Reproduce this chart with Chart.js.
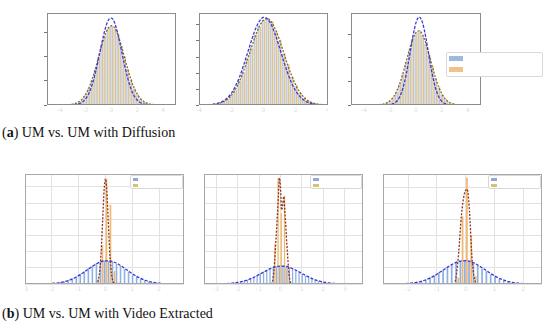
<!DOCTYPE html>
<html><head><meta charset="utf-8">
<script src="https://cdn.jsdelivr.net/npm/chart.js@4.4.1/dist/chart.umd.min.js"></script>
<style>
html,body{margin:0;padding:0;background:#fff;width:550px;height:324px;overflow:hidden;position:relative}
canvas{position:absolute}
.cap{position:absolute;left:2px;font-family:"Liberation Serif","DejaVu Serif",serif;font-size:14px;color:#111;white-space:nowrap;line-height:16px}
.lg{position:absolute;background:#fff;border:1px solid #d8d8d8;border-radius:2px;box-sizing:border-box}
.sw{position:absolute}
</style></head><body>
<canvas id="c1" width="133" height="102" style="left:43px;top:13px"></canvas>
<canvas id="c2" width="133" height="102" style="left:195px;top:13px"></canvas>
<canvas id="c3" width="134" height="102" style="left:347px;top:13px"></canvas>
<canvas id="c4" width="159" height="120" style="left:25px;top:174px"></canvas>
<canvas id="c5" width="159" height="120" style="left:204px;top:174px"></canvas>
<canvas id="c6" width="159" height="120" style="left:383px;top:174px"></canvas>

<div class="lg" style="left:446px;top:52px;width:97px;height:25px">
  <div class="sw" style="left:2px;top:3px;width:14px;height:5px;background:#9cb9de"></div>
  <div class="sw" style="left:2px;top:14px;width:14px;height:5px;background:#eec289"></div>
</div>
<div class="lg" style="left:130px;top:175px;width:53px;height:14px">
  <div class="sw" style="left:2px;top:2px;width:5px;height:3px;background:#8ea9dc"></div>
  <div class="sw" style="left:2px;top:8px;width:5px;height:3px;background:#cfc76a"></div>
</div>
<div class="lg" style="left:310px;top:175px;width:52px;height:14px">
  <div class="sw" style="left:2px;top:2px;width:6px;height:3px;background:#8ea9dc"></div>
  <div class="sw" style="left:2px;top:8px;width:6px;height:3px;background:#cfc76a"></div>
</div>
<div class="lg" style="left:488px;top:175px;width:53px;height:14px">
  <div class="sw" style="left:2px;top:2px;width:6px;height:3px;background:#8ea9dc"></div>
  <div class="sw" style="left:2px;top:8px;width:6px;height:3px;background:#cfc76a"></div>
</div>

<div class="cap" style="top:125px">(<b>a</b>) UM vs. UM with Diffusion</div>
<div class="cap" style="top:306px">(<b>b</b>) UM vs. UM with Video Extracted</div>

<script>
// ---------- top row (a) ----------
const p1Bins = [-3,-2.75,-2.5,-2.25,-2,-1.75,-1.5,-1.25,-1,-0.75,-0.5,-0.25,0,0.25,0.5,0.75,1,1.25,1.5,1.75,2,2.25,2.5,2.75,3];
const p1BlueBars = [0.003,0.007,0.013,0.025,0.042,0.070,0.104,0.148,0.196,0.247,0.286,0.316,0.325,0.315,0.287,0.244,0.199,0.150,0.103,0.068,0.043,0.024,0.013,0.006,0.003];
const p1OrangeBars = [0.004,0.008,0.015,0.027,0.044,0.073,0.105,0.153,0.198,0.252,0.288,0.322,0.328,0.318,0.293,0.246,0.202,0.149,0.108,0.070,0.046,0.025,0.014,0.007,0.004];
const p1CurveX = [-5,-4,-3.5,-3,-2.75,-2.5,-2.25,-2,-1.75,-1.5,-1.25,-1,-0.75,-0.5,-0.25,0,0.25,0.5,0.75,1,1.25,1.5,1.75,2,2.25,2.5,2.75,3,3.5,4,5];
const p1BlueCurve = [0,0,0.0001,0.0009,0.0023,0.0057,0.0127,0.026,0.049,0.085,0.134,0.194,0.258,0.315,0.353,0.362,0.341,0.294,0.233,0.169,0.113,0.069,0.0385,0.020,0.0093,0.004,0.0016,0.0006,0.0001,0,0];
const p1OrangeCurve = [0,0.0001,0.0007,0.0037,0.0075,0.0145,0.026,0.045,0.071,0.107,0.151,0.200,0.249,0.291,0.320,0.330,0.320,0.291,0.249,0.200,0.151,0.107,0.071,0.045,0.026,0.0145,0.0075,0.0037,0.0007,0.0001,0];

const p2Bins = [-2.75,-2.5,-2.25,-2,-1.75,-1.5,-1.25,-1,-0.75,-0.5,-0.25,0,0.25,0.5,0.75,1,1.25,1.5,1.75,2,2.25,2.5,2.75,3];
const p2BlueBars = [0.006,0.011,0.019,0.033,0.051,0.078,0.108,0.145,0.183,0.220,0.248,0.266,0.270,0.258,0.232,0.199,0.160,0.122,0.087,0.059,0.037,0.022,0.012,0.006];
const p2OrangeBars = [0.005,0.010,0.018,0.031,0.047,0.075,0.102,0.143,0.177,0.219,0.244,0.266,0.268,0.261,0.233,0.204,0.161,0.127,0.089,0.063,0.039,0.025,0.013,0.008];
const p2CurveX = [-4,-3.5,-3,-2.75,-2.5,-2.25,-2,-1.75,-1.5,-1.25,-1,-0.75,-0.5,-0.25,0,0.25,0.5,0.75,1,1.25,1.5,1.75,2,2.25,2.5,2.75,3,3.5,4];
const p2BlueCurve = [0.0001,0.0006,0.0031,0.0063,0.012,0.0216,0.036,0.058,0.086,0.122,0.161,0.201,0.237,0.262,0.274,0.269,0.249,0.217,0.178,0.137,0.100,0.068,0.044,0.027,0.0153,0.0082,0.0042,0.0009,0.0002];
const p2OrangeCurve = [0.0001,0.0005,0.0026,0.0052,0.0099,0.0177,0.030,0.048,0.073,0.104,0.141,0.179,0.216,0.246,0.265,0.270,0.259,0.235,0.202,0.164,0.125,0.091,0.062,0.040,0.0245,0.014,0.0077,0.0019,0.0004];

const p3Bins = [-2.5,-2.25,-2,-1.75,-1.5,-1.25,-1,-0.75,-0.5,-0.25,0,0.25,0.5,0.75,1,1.25,1.5,1.75,2,2.25,2.5,2.75,3];
const p3BlueBars = [0.003,0.008,0.016,0.031,0.054,0.088,0.131,0.183,0.232,0.276,0.304,0.312,0.297,0.260,0.214,0.162,0.114,0.074,0.045,0.025,0.012,0.006,0.003];
const p3OrangeBars = [0.004,0.010,0.017,0.034,0.055,0.093,0.132,0.188,0.233,0.283,0.305,0.317,0.296,0.266,0.213,0.166,0.113,0.078,0.044,0.027,0.013,0.007,0.003];
const p3CurveX = [-5,-4,-3.5,-3,-2.5,-2.25,-2,-1.75,-1.5,-1.25,-1,-0.75,-0.5,-0.25,0,0.25,0.5,0.75,1,1.25,1.5,1.75,2,2.25,2.5,2.75,3,3.5,4,5];
const p3BlueCurve = [0,0,0,0,0.0001,0.0005,0.0018,0.0056,0.015,0.035,0.072,0.131,0.207,0.288,0.350,0.374,0.350,0.288,0.207,0.131,0.072,0.035,0.015,0.0056,0.0018,0.0005,0.0001,0,0,0];
const p3OrangeCurve = [0,0,0.0001,0.0007,0.0042,0.0091,0.018,0.033,0.057,0.091,0.135,0.185,0.236,0.280,0.308,0.315,0.299,0.263,0.216,0.164,0.116,0.076,0.046,0.026,0.0138,0.0068,0.0031,0.0005,0.0001,0];

const topXTicks1 = [-4,-2,0,2,4];
const topXTicks2 = [-4,-2,0,2,4];
const topXTicks3 = [-4,-2,0,2,4];
const topYTicks1 = [0,0.1,0.2,0.3];
const topYTicks2 = [0,0.05,0.1,0.15,0.2,0.25];
const topYTicks3 = [0,0.1,0.2,0.3];

// ---------- bottom row (b) ----------
const p4Bins = [-2.1,-1.95,-1.8,-1.65,-1.5,-1.35,-1.2,-1.05,-0.9,-0.75,-0.6,-0.45,-0.3,-0.15,0,0.15,0.3,0.45,0.6,0.75,0.9,1.05,1.2,1.35,1.5,1.65,1.8,1.95,2.1];
const p4BlueBars = [0.02,0.04,0.06,0.11,0.15,0.24,0.33,0.47,0.63,0.78,0.98,1.12,1.29,1.37,1.44,1.42,1.37,1.24,1.11,0.92,0.77,0.58,0.45,0.31,0.22,0.14,0.09,0.05,0.03];
const p4OrangeBars = [0,0,0,0,0,0,0,0,0,0,0,0.05,0.3,2.4,6.5,4.9,0.8,0.1,0,0,0,0,0,0,0,0,0,0,0];
const p4BlueX = [-3,-2.5,-2.25,-2,-1.75,-1.5,-1.25,-1,-0.75,-0.5,-0.25,0,0.25,0.5,0.75,1,1.25,1.5,1.75,2,2.25,2.5,2.93];
const p4BlueCurve = [0.0002,0.0036,0.011,0.030,0.072,0.156,0.300,0.516,0.791,1.081,1.319,1.435,1.393,1.207,0.932,0.643,0.395,0.217,0.106,0.046,0.018,0.006,0.001];
const p4RedX = [-3,-0.5,-0.4,-0.35,-0.3,-0.25,-0.2,-0.15,-0.1,-0.05,0,0.05,0.1,0.15,0.2,0.25,0.3,0.35,0.4,0.5,2.93];
const p4RedCurve = [0,0,0.004,0.023,0.101,0.361,1.023,2.298,4.093,5.79,6.5,5.79,4.093,2.298,1.023,0.361,0.101,0.023,0.004,0,0];

const p5Bins = [-2.55,-2.4,-2.25,-2.1,-1.95,-1.8,-1.65,-1.5,-1.35,-1.2,-1.05,-0.9,-0.75,-0.6,-0.45,-0.3,-0.15,0,0.15,0.3,0.45,0.6,0.75,0.9,1.05,1.2,1.35,1.5,1.65,1.8,1.95,2.1,2.25,2.4,2.55];
const p5BlueBars = [0.02,0.03,0.05,0.08,0.10,0.15,0.21,0.26,0.36,0.44,0.56,0.65,0.78,0.86,0.98,1.03,1.10,1.12,1.11,1.08,1.03,0.93,0.85,0.72,0.63,0.50,0.42,0.31,0.25,0.18,0.14,0.09,0.07,0.04,0.03];
const p5OrangeBars = [0,0,0,0,0,0,0,0,0,0,0,0,0,0,0.1,2.5,6.6,4.4,5.5,1.0,0.1,0,0,0,0,0,0,0,0,0,0,0,0,0,0];
const p5BlueX = [-3.56,-3,-2.75,-2.5,-2.25,-2,-1.75,-1.5,-1.25,-1,-0.75,-0.5,-0.25,0,0.25,0.5,0.75,1,1.25,1.5,1.75,2,2.25,2.5,2.75,3,3.84];
const p5BlueCurve = [0,0.0046,0.011,0.024,0.049,0.094,0.165,0.271,0.413,0.584,0.767,0.937,1.062,1.118,1.094,0.994,0.839,0.657,0.478,0.323,0.203,0.118,0.064,0.032,0.015,0.0066,0];
const p5RedX = [-3.56,-0.5,-0.4,-0.3,-0.2,-0.1,-0.05,0,0.05,0.1,0.15,0.2,0.3,0.4,0.5,3.84];
const p5RedCurve = [0,0,0.05,0.9,3.0,5.4,6.6,6.0,4.6,4.9,5.45,4.6,2.4,0.6,0,0];

const p6Bins = [-2.1,-1.95,-1.8,-1.65,-1.5,-1.35,-1.2,-1.05,-0.9,-0.75,-0.6,-0.45,-0.3,-0.15,0,0.15,0.3,0.45,0.6,0.75,0.9,1.05,1.2,1.35,1.5,1.65,1.8,1.95,2.1];
const p6BlueBars = [0.03,0.04,0.08,0.12,0.20,0.27,0.41,0.54,0.73,0.89,1.09,1.23,1.37,1.42,1.45,1.40,1.27,1.15,0.95,0.79,0.60,0.46,0.31,0.22,0.14,0.09,0.05,0.03,0.02];
const p6OrangeBars = [0,0,0,0,0,0,0,0,0,0,0,0,0.4,4.2,6.6,3.0,0.5,0,0,0,0,0,0,0,0,0,0,0,0];
const p6BlueX = [-2.87,-2.5,-2.25,-2,-1.75,-1.5,-1.25,-1,-0.75,-0.5,-0.25,0,0.25,0.5,0.75,1,1.25,1.5,1.75,2,2.25,2.5,2.64];
const p6BlueCurve = [0,0.0044,0.0136,0.037,0.089,0.191,0.361,0.607,0.904,1.193,1.395,1.447,1.329,1.083,0.782,0.501,0.284,0.143,0.064,0.025,0.0088,0.0027,0];
const p6RedX = [-2.87,-0.45,-0.35,-0.25,-0.15,-0.05,0.05,0.1,0.15,0.2,0.25,0.3,0.4,2.64];
const p6RedCurve = [0,0,0.3,1.9,4.3,5.6,5.88,5.2,3.8,2.0,0.9,0.3,0,0];

const botXTicks4 = [-3,-2,-1,0,1,2];
const botXTicks5 = [-3,-2,-1,0,1,2,3];
const botXTicks6 = [-2,-1,0,1,2];
const botYTicks = [0,1,2,3,4,5,6];

// ---------- drawing ----------
const pts = (xs, ys) => xs.map((x, i) => ({x: x, y: ys[i]}));

const framePlugin = {
  id: 'frame',
  afterDatasetsDraw(chart, args, opts) {
    const a = chart.chartArea, c = chart.ctx;
    c.save();
    c.strokeStyle = opts.color || '#888';
    c.lineWidth = 1;
    c.strokeRect(Math.round(a.left) + 0.5, Math.round(a.top) + 0.5,
                 Math.round(a.right - a.left) - 1, Math.round(a.bottom - a.top) - 1);
    c.restore();
  }
};
Chart.register(framePlugin);

function panel(id, o) {
  new Chart(document.getElementById(id), {
    type: 'bar',
    data: { datasets: [
      { type: 'line', data: pts(o.bx, o.by), borderColor: o.bCol, borderWidth: o.lw,
        borderDash: o.bDash, pointRadius: 0, fill: false, cubicInterpolationMode: 'monotone', order: 0 },
      { type: 'line', data: pts(o.rx, o.ry), borderColor: o.rCol, borderWidth: o.lw,
        borderDash: o.rDash, pointRadius: 0, fill: false, cubicInterpolationMode: 'monotone', order: 0 },
      { type: 'bar', data: pts(o.bins, o.blue), backgroundColor: o.blueCol, borderWidth: 0,
        barPercentage: o.barPct, categoryPercentage: 1, order: 1 },
      { type: 'bar', data: pts(o.bins, o.orange), backgroundColor: o.orangeCol, borderWidth: 0,
        barPercentage: o.barPct, categoryPercentage: 1, order: 1 }
    ]},
    options: {
      responsive: false, animation: false, devicePixelRatio: 1, events: [],
      layout: { padding: 0 },
      plugins: { legend: { display: false }, tooltip: { enabled: false }, frame: { color: o.frameCol } },
      scales: {
        x: {
          type: 'linear', min: o.xmin, max: o.xmax, offset: false,
          afterBuildTicks: s => { s.ticks = o.xt.map(v => ({value: v})); },
          afterFit: s => { s.height = 10; s.paddingLeft = 0; s.paddingRight = 0; },
          border: { display: false },
          grid: { display: o.grid, color: '#e2e2e2', drawTicks: false, offset: false },
          ticks: { color: '#dcdcdc', font: { family: 'DejaVu Sans', size: 6 }, padding: 2,
                   maxRotation: 0, autoSkip: false, callback: v => String(v) }
        },
        y: {
          min: 0, max: o.ymax,
          afterBuildTicks: s => { s.ticks = o.yt.map(v => ({value: v})); },
          afterFit: s => { s.width = o.yw; s.paddingTop = 0; s.paddingBottom = 0; },
          border: { display: false },
          grid: o.grid
            ? { color: '#e2e2e2', drawTicks: false }
            : { drawOnChartArea: false, drawTicks: true, tickLength: 3, color: '#777' },
          ticks: { display: false }
        }
      }
    }
  });
}

const topStyle = { bCol: '#3a3ad6', rCol: '#7e6838', lw: 1.3, bDash: [3, 1.5], rDash: [2, 1.5],
  blueCol: '#c3cad8', orangeCol: '#e0c48e', barPct: 0.85, frameCol: '#8c8c8c', grid: false, yw: 4 };
const botStyle = { bCol: '#3535d6', rCol: '#8c3424', lw: 1.3, bDash: [3, 1.5], rDash: [2, 1.5],
  blueCol: '#8fb0e3', orangeCol: '#f1b86c', barPct: 0.8, frameCol: '#a8a8a8', grid: true, yw: 0 };

panel('c1', Object.assign({}, topStyle, { bins: p1Bins, blue: p1BlueBars, orange: p1OrangeBars,
  bx: p1CurveX, by: p1BlueCurve, rx: p1CurveX, ry: p1OrangeCurve,
  xmin: -5, xmax: 5, ymax: 0.383, xt: topXTicks1, yt: topYTicks1 }));
panel('c2', Object.assign({}, topStyle, { bins: p2Bins, blue: p2BlueBars, orange: p2OrangeBars,
  bx: p2CurveX, by: p2BlueCurve, rx: p2CurveX, ry: p2OrangeCurve,
  xmin: -4, xmax: 4, ymax: 0.2875, xt: topXTicks2, yt: topYTicks2 }));
panel('c3', Object.assign({}, topStyle, { bins: p3Bins, blue: p3BlueBars, orange: p3OrangeBars,
  bx: p3CurveX, by: p3BlueCurve, rx: p3CurveX, ry: p3OrangeCurve,
  xmin: -5, xmax: 5, ymax: 0.391, xt: topXTicks3, yt: topYTicks3 }));
panel('c4', Object.assign({}, botStyle, { bins: p4Bins, blue: p4BlueBars, orange: p4OrangeBars,
  bx: p4BlueX, by: p4BlueCurve, rx: p4RedX, ry: p4RedCurve,
  xmin: -3, xmax: 2.93, ymax: 6.8, xt: botXTicks4, yt: botYTicks }));
panel('c5', Object.assign({}, botStyle, { bins: p5Bins, blue: p5BlueBars, orange: p5OrangeBars,
  bx: p5BlueX, by: p5BlueCurve, rx: p5RedX, ry: p5RedCurve,
  xmin: -3.56, xmax: 3.84, ymax: 6.85, xt: botXTicks5, yt: botYTicks }));
panel('c6', Object.assign({}, botStyle, { bins: p6Bins, blue: p6BlueBars, orange: p6OrangeBars,
  bx: p6BlueX, by: p6BlueCurve, rx: p6RedX, ry: p6RedCurve,
  xmin: -2.87, xmax: 2.64, ymax: 6.83, xt: botXTicks6, yt: botYTicks }));
</script>
</body></html>
